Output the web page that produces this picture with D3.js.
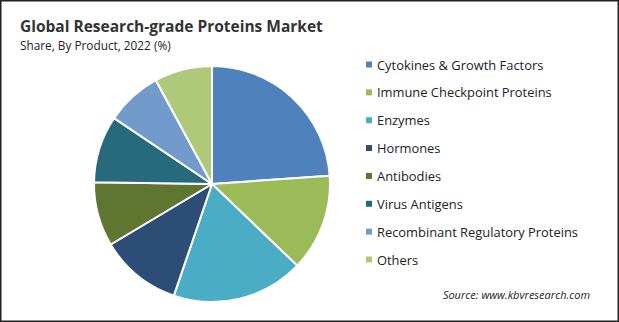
<!DOCTYPE html>
<html>
<head>
<meta charset="utf-8">
<script src="https://cdn.jsdelivr.net/npm/d3@7"></script>
<style>
  body { margin:0; background:#fff; }
  svg { display:block; font-family:"Open Sans", "Noto Sans", sans-serif; }
</style>
</head>
<body>
<div id="plot"></div>
<script>
// chart data
var products = ['Cytokines & Growth Factors','Immune Checkpoint Proteins','Enzymes','Hormones',
	'Antibodies','Virus Antigens','Recombinant Regulatory Proteins','Others'];
var shares = [23.9, 13.3, 18.1, 11.2, 8.8, 9.2, 7.7, 7.9];
var colors = ['#4f81bd','#9bbb59','#4bacc6','#2c4d75','#5f7530','#276a7c','#729aca','#afc97a'];

var width = 619, height = 322;

var svg = d3.select('#plot')
	.append('svg')
	.attr('width',width)
	.attr('height',height);

// outer frame
svg.append('rect')
	.attr('x',0.75).attr('y',0.75)
	.attr('width',width-1.5).attr('height',height-1.5)
	.attr('fill','#fff')
	.attr('stroke','#222')
	.attr('stroke-width',1.5);

// titles
svg.append('text')
	.attr('x',20).attr('y',32)
	.attr('font-size',15.5)
	.attr('font-weight',700)
	.attr('fill','#333')
	.text('Global Research-grade Proteins Market');

svg.append('text')
	.attr('x',20).attr('y',50)
	.attr('font-size',11.8)
	.attr('fill','#222')
	.text('Share, By Product, 2022 (%)');

// pie
var cx = 212, cy = 184, r = 118;
var pie = d3.pie().sort(null).value(function(d){ return d; });
var arc = d3.arc().innerRadius(0).outerRadius(r);

var g = svg.append('g')
	.attr('transform','translate('+cx+','+cy+')');

g.selectAll('path')
	.data(pie(shares))
	.enter()
	.append('path')
	.attr('d',arc)
	.attr('fill',function(d,i){ return colors[i]; })
	.attr('stroke','#fff')
	.attr('stroke-width',2)
	.attr('stroke-linejoin','round');

// legend
var legend = svg.append('g').attr('class','legend');
var rowY = d3.scalePoint().domain(products).range([69.5,264.5]);

products.forEach(function(p,i){
	var y = rowY(p);
	legend.append('rect')
		.attr('x',366).attr('y',y-8)
		.attr('width',6).attr('height',6)
		.attr('fill',colors[i]);
	legend.append('text')
		.attr('x',377).attr('y',y)
		.attr('font-size',12.9)
		.attr('fill','#222')
		.text(p);
});

// source
svg.append('text')
	.attr('x',590).attr('y',299)
	.attr('text-anchor','end')
	.attr('font-size',11)
	.attr('font-style','italic')
	.attr('fill','#222')
	.text('Source: www.kbvresearch.com');
</script>
</body>
</html>
